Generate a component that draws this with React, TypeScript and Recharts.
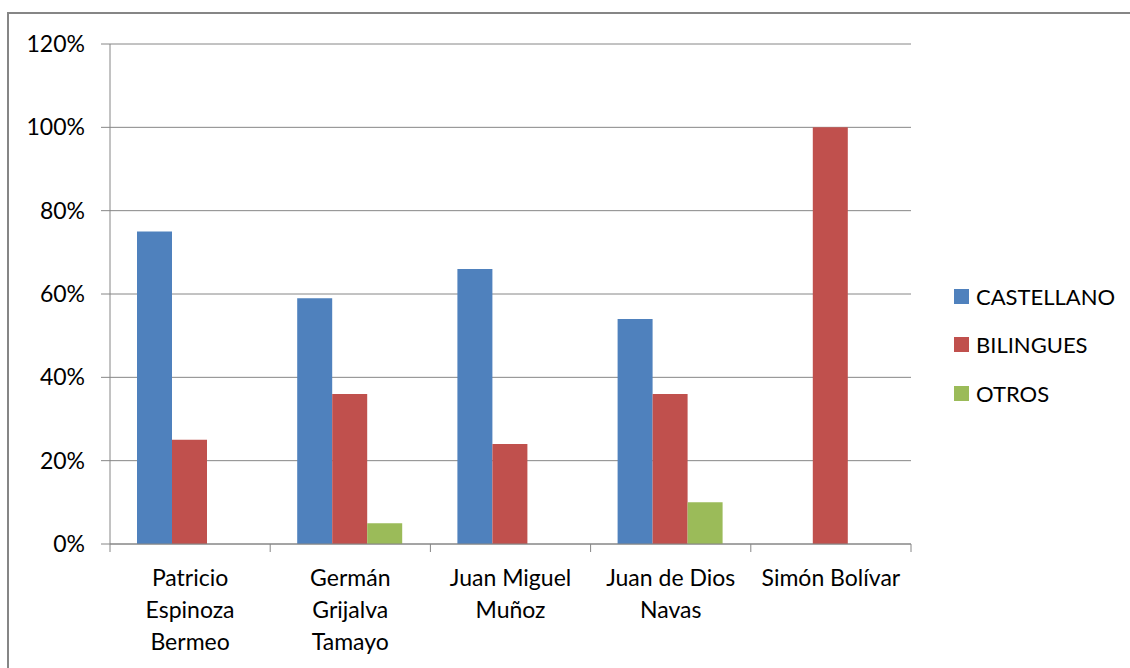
import { Bar, BarChart, CartesianGrid, Legend, XAxis, YAxis } from "recharts";

const SCHOOLS = [
  ["Patricio", "Espinoza", "Bermeo"],
  ["Germán", "Grijalva", "Tamayo"],
  ["Juan Miguel", "Muñoz"],
  ["Juan de Dios", "Navas"],
  ["Simón Bolívar"],
];
const CASTELLANO = [75, 59, 66, 54, 0];
const BILINGUES = [25, 36, 24, 36, 100];
const OTROS = [0, 5, 0, 10, 0];
const Y_TICKS = [0, 20, 40, 60, 80, 100, 120];

const SERIES = [
  { key: "castellano", name: "CASTELLANO", color: "#4F81BD" },
  { key: "bilingues", name: "BILINGUES", color: "#C0504D" },
  { key: "otros", name: "OTROS", color: "#9BBB59" },
];

const data = SCHOOLS.map((lines, i) => ({
  school: lines.join(" "),
  lines,
  castellano: CASTELLANO[i],
  bilingues: BILINGUES[i],
  otros: OTROS[i],
}));

const FONT = "Lato, 'Liberation Sans', sans-serif";
const GRID = "#868686";
const PLOT_LEFT = 110;
const PLOT_RIGHT = 911;
const PLOT_TOP = 44;
const AXIS_Y = 544;
const BAND = (PLOT_RIGHT - PLOT_LEFT) / SCHOOLS.length;

function SchoolTick(props: any) {
  const { x, payload, index } = props;
  const lines = SCHOOLS[index] ?? [String(payload.value)];
  return (
    <g>
      <line x1={x - BAND / 2} y1={AXIS_Y} x2={x - BAND / 2} y2={AXIS_Y + 8} stroke={GRID} />
      {index === SCHOOLS.length - 1 && (
        <line x1={x + BAND / 2} y1={AXIS_Y} x2={x + BAND / 2} y2={AXIS_Y + 8} stroke={GRID} />
      )}
      <text x={x} y={AXIS_Y + 42} textAnchor="middle" fill="#000" fontSize={23} fontFamily={FONT}>
        {lines.map((l, i) => (
          <tspan key={i} x={x} dy={i === 0 ? 0 : 32}>
            {l}
          </tspan>
        ))}
      </text>
    </g>
  );
}

function LegendBox() {
  return (
    <div style={{ fontFamily: FONT, fontSize: 22, color: "#000" }}>
      {SERIES.map((s) => (
        <div key={s.key} style={{ display: "flex", alignItems: "center", height: 48.5 }}>
          <span style={{ width: 15, height: 15, background: s.color, marginRight: 7, display: "inline-block" }} />
          <span>{s.name}</span>
        </div>
      ))}
    </div>
  );
}

export default function App() {
  return (
    <div style={{ position: "absolute", left: 0, top: 0, width: 1130, height: 668, overflow: "hidden", background: "#fff" }}>
      <div
        style={{
          position: "absolute",
          left: 7,
          top: 12,
          width: 1200,
          height: 700,
          borderTop: `2px solid ${GRID}`,
          borderLeft: `2px solid ${GRID}`,
        }}
      />
      <div style={{ position: "absolute", left: 0, top: 0 }}>
        <BarChart
          width={1130}
          height={668}
          data={data}
          margin={{ top: PLOT_TOP, right: 1130 - PLOT_RIGHT, left: 0, bottom: 0 }}
          barCategoryGap={27}
          barGap={0}
        >
          <CartesianGrid vertical={false} stroke={GRID} strokeDasharray="" />
          <XAxis
            dataKey="school"
            height={668 - AXIS_Y}
            interval={0}
            stroke={GRID}
            tickLine={false}
            tick={<SchoolTick />}
          />
          <YAxis
            width={PLOT_LEFT}
            domain={[0, 120]}
            ticks={Y_TICKS}
            interval={0}
            tickFormatter={(v) => `${v}%`}
            stroke={GRID}
            tickSize={9}
            tickMargin={16}
            tick={{ fill: "#000", fontSize: 23, fontFamily: FONT }}
          />
          <Legend
            layout="vertical"
            align="center"
            verticalAlign="middle"
            content={<LegendBox />}
            wrapperStyle={{ left: 954, top: 272, width: 170 }}
          />
          {SERIES.map((s) => (
            <Bar key={s.key} dataKey={s.key} name={s.name} fill={s.color} isAnimationActive={false} />
          ))}
        </BarChart>
      </div>
    </div>
  );
}
